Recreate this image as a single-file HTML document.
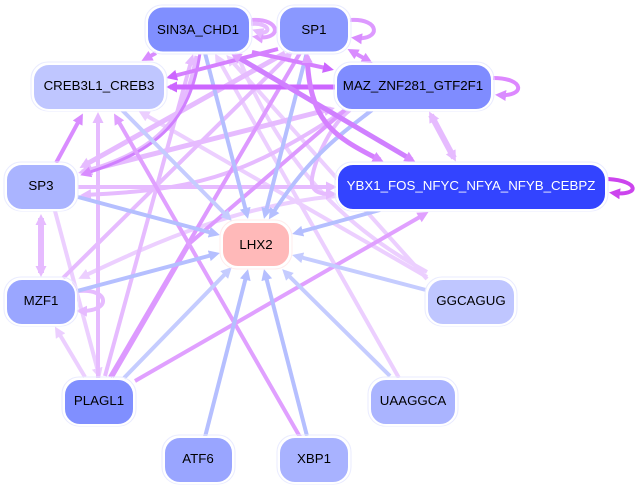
<!DOCTYPE html>
<html><head><meta charset="utf-8"><style>
html,body{margin:0;padding:0;background:#fff}
svg{display:block}
text{font-family:"Liberation Sans",sans-serif;font-size:13.3px;text-anchor:middle;fill:#000}
.n{stroke:#fff;stroke-width:2}
.o{fill:none;stroke:#e9ebff;stroke-width:1}
path{fill:none}
</style></head><body>
<svg width="637" height="489" viewBox="0 0 637 489" xmlns="http://www.w3.org/2000/svg">
<defs>
<marker id="a" markerUnits="userSpaceOnUse" markerWidth="13" markerHeight="12" refX="7" refY="5.5" orient="auto-start-reverse"><path d="M0 0L11 5.5L0 11z" style="fill:#b5bfff"/></marker>
<marker id="b" markerUnits="userSpaceOnUse" markerWidth="13" markerHeight="12" refX="7" refY="5.5" orient="auto-start-reverse"><path d="M0 0L11 5.5L0 11z" style="fill:#c5ccff"/></marker>
<marker id="c" markerUnits="userSpaceOnUse" markerWidth="13" markerHeight="12" refX="7" refY="5.5" orient="auto-start-reverse"><path d="M0 0L11 5.5L0 11z" style="fill:#d98cff"/></marker>
<marker id="d" markerUnits="userSpaceOnUse" markerWidth="13" markerHeight="12" refX="7" refY="5.5" orient="auto-start-reverse"><path d="M0 0L11 5.5L0 11z" style="fill:#e6bbff"/></marker>
<marker id="e" markerUnits="userSpaceOnUse" markerWidth="13" markerHeight="12" refX="7" refY="5.5" orient="auto-start-reverse"><path d="M0 0L11 5.5L0 11z" style="fill:#eccfff"/></marker>
<marker id="f" markerUnits="userSpaceOnUse" markerWidth="13" markerHeight="12" refX="7" refY="5.5" orient="auto-start-reverse"><path d="M0 0L11 5.5L0 11z" style="fill:#cc66ff"/></marker>
<marker id="g" markerUnits="userSpaceOnUse" markerWidth="13" markerHeight="12" refX="7" refY="5.5" orient="auto-start-reverse"><path d="M0 0L11 5.5L0 11z" style="fill:#e0a0ff"/></marker>
<marker id="h" markerUnits="userSpaceOnUse" markerWidth="13" markerHeight="12" refX="7" refY="5.5" orient="auto-start-reverse"><path d="M0 0L11 5.5L0 11z" style="fill:#cc44ee"/></marker>
</defs>

<!-- light edges -->
<g style="stroke:#eccfff;stroke-width:4">
<path d="M399 378L217 57" marker-end="url(#e)"/>
<path d="M427 279L229 58" marker-end="url(#e)"/>
<path d="M427 277L142 113" marker-end="url(#e)"/>
<path d="M427 272C340 225 280 160 238 56" marker-end="url(#e)"/>
<path d="M55 211L99 375" marker-end="url(#e)"/>
<path d="M85 377L57 330" marker-end="url(#e)"/>
<path d="M337 196C240 205 160 240 82 277" marker-end="url(#e)"/>
<path d="M78 291C110 288 112 312 80 311" marker-end="url(#d)" style="stroke:#e6bbff"/>
</g>
<g style="stroke:#e6bbff;stroke-width:4">
<path d="M98 378L98 116" marker-end="url(#d)"/>
<path d="M105 376L192 58" marker-end="url(#d)"/>
<path d="M63 278L290 54" marker-end="url(#d)"/>
<path d="M350 110C330 125 315 160 312 178C310 195 325 194 333 194" marker-end="url(#d)"/>
<path d="M78 187L333 187" marker-end="url(#d)"/>
<path d="M285 53L83 166" marker-end="url(#d)" style="stroke-width:5"/>
<path d="M331 109L82 172" marker-end="url(#d)" marker-start="url(#d)" style="stroke-width:5"/>
<path d="M197 56C185 120 160 150 85 172" marker-end="url(#d)" style="stroke-width:5"/>
<path d="M345 110C240 180 190 190 84 195" style="stroke-width:4" marker-end="url(#d)"/>
<path d="M41 218L41 273" marker-end="url(#d)" marker-start="url(#d)" style="stroke-width:6"/>
<path d="M431 115L454 158" marker-end="url(#d)" marker-start="url(#d)" style="stroke-width:6"/>
</g>
<g style="stroke:#d98cff;stroke-width:4">
<path d="M56 163L81 117" marker-end="url(#c)"/>
<path d="M156 53L145 59" marker-end="url(#c)"/>
<path d="M300 53L110 377" style="stroke:#dd99ff"/>
<path d="M345 110L190 243L112 377" style="stroke:#dd99ff"/>
<path d="M200 53C190 120 160 150 84 174" marker-end="url(#c)" style="stroke:#d080ff;stroke-width:3"/>
<path d="M351 51L369 61" marker-end="url(#c)" marker-start="url(#c)"/>
</g>
<g style="stroke:#e0a0ff;stroke-width:4">
<path d="M300 437L116 117" marker-end="url(#g)"/>
<path d="M135 381L425 214" marker-end="url(#g)"/>
</g>
<!-- blue edges -->
<g style="stroke:#b5bfff;stroke-width:4">
<path d="M205 53L247 215" marker-end="url(#a)"/>
<path d="M307 52L265 215" marker-end="url(#a)"/>
<path d="M372 110C340 135 310 155 271 216" marker-end="url(#a)"/>
<path d="M380 210L296 233" marker-end="url(#a)"/>
<path d="M78 197L216 234" marker-end="url(#a)"/>
<path d="M77 291L216 254" marker-end="url(#a)"/>
<path d="M205 437L247 273" marker-end="url(#a)"/>
<path d="M307 436L265 273" marker-end="url(#a)"/>
</g>
<g style="stroke:#c5ccff;stroke-width:4">
<path d="M122 110L229 218" marker-end="url(#b)"/>
<path d="M124 378L229 270" marker-end="url(#b)"/>
<path d="M426 290L296 256" marker-end="url(#b)"/>
<path d="M390 376L285 272" marker-end="url(#b)"/>
</g>
<!-- strong edges -->
<g style="stroke:#cc66ff;stroke-width:4">
<path d="M278 49L170 77" marker-end="url(#f)" style="stroke:#d580ff"/>
<path d="M336 87L170 87" marker-end="url(#f)" style="stroke-width:5"/>
<path d="M252 52L330 69" marker-end="url(#f)" style="stroke:#d580ff"/>
<path d="M234 55L412 160" marker-end="url(#c)" marker-start="url(#g)" style="stroke:#d080ff;stroke-width:5"/>
<path d="M307 56C310 120 330 135 380 160" marker-end="url(#c)" marker-start="url(#g)" style="stroke:#d580ff;stroke-width:5"/>
</g>
<!-- self loops -->
<g style="stroke-width:4">
<path d="M251 20C282 18 282 41 256 37" style="stroke:#e0a0ff" marker-end="url(#g)"/>
<path d="M251 24C272 22 272 37 256 31" style="stroke:#e6bbff" marker-end="url(#d)"/>
<path d="M350 20C381 18 381 41 355 38" style="stroke:#dd99ff" marker-end="url(#c)"/>
<path d="M493 78C526 78 525 97 499 95" style="stroke:#dd88ff" marker-end="url(#c)"/>
<path d="M608 179C640 181 640 196 613 193" style="stroke:#cc44ee" marker-end="url(#h)"/>
</g>

<!-- nodes -->
<g>
<rect class="o" x="145" y="5" width="107" height="49" rx="17"/><rect class="n" x="147" y="6.500" width="103" height="46" rx="16" fill="#808fff"/>
<rect class="o" x="277" y="5" width="74" height="49" rx="17"/><rect class="n" x="279" y="6.500" width="70" height="46" rx="16" fill="#8a98ff"/>
<rect class="o" x="31" y="62" width="136" height="49" rx="17"/><rect class="n" x="33" y="64" width="132" height="46" rx="16" fill="#bfc6ff"/>
<rect class="o" x="334" y="62" width="160" height="49" rx="17"/><rect class="n" x="336" y="64" width="156" height="46" rx="16" fill="#7f8cff"/>
<rect class="o" x="4" y="162" width="74" height="49" rx="17"/><rect class="n" x="6" y="164" width="70" height="46" rx="16" fill="#aab4ff"/>
<rect class="o" x="335" y="162" width="273" height="49" rx="17"/><rect class="n" x="337" y="164" width="269" height="46" rx="16" fill="#3344ff"/>
<rect class="o" x="220" y="220" width="72" height="49" rx="17" style="stroke:#ffecec"/><rect class="n" x="222" y="222" width="68" height="45" rx="16" fill="#ffb9b9"/>
<rect class="o" x="4" y="277" width="74" height="49" rx="17"/><rect class="n" x="6" y="279" width="70" height="46" rx="16" fill="#9aa6ff"/>
<rect class="o" x="425" y="277" width="92" height="49" rx="17"/><rect class="n" x="427" y="279" width="88" height="46" rx="16" fill="#bfc6ff"/>
<rect class="o" x="62" y="377" width="74" height="49" rx="17"/><rect class="n" x="64" y="379" width="70" height="46" rx="16" fill="#808fff"/>
<rect class="o" x="368" y="377" width="90" height="49" rx="17"/><rect class="n" x="370" y="379" width="86" height="46" rx="16" fill="#aab4ff"/>
<rect class="o" x="162" y="435" width="73" height="49" rx="17"/><rect class="n" x="164" y="437" width="69" height="46" rx="16" fill="#99a5ff"/>
<rect class="o" x="277" y="435" width="74" height="49" rx="17"/><rect class="n" x="279" y="437" width="70" height="46" rx="16" fill="#a8b2ff"/>
</g>
<text x="198" y="34">SIN3A_CHD1</text>
<text x="314" y="34">SP1</text>
<text x="99" y="90">CREB3L1_CREB3</text>
<text x="413" y="90">MAZ_ZNF281_GTF2F1</text>
<text x="41" y="190">SP3</text>
<text x="471" y="190" style="fill:#fff">YBX1_FOS_NFYC_NFYA_NFYB_CEBPZ</text>
<text x="256" y="249">LHX2</text>
<text x="41" y="305">MZF1</text>
<text x="471" y="305">GGCAGUG</text>
<text x="99" y="405">PLAGL1</text>
<text x="413" y="405">UAAGGCA</text>
<text x="198" y="463">ATF6</text>
<text x="314" y="463">XBP1</text>
</svg>
</body></html>
